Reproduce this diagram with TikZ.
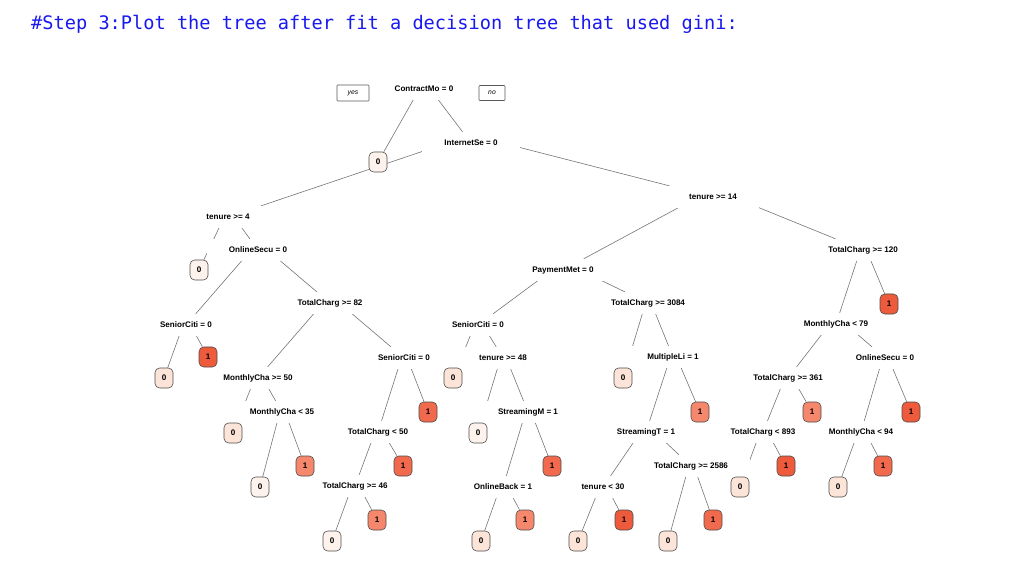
\documentclass[tikz,border=0pt]{standalone}
\usepackage{fontspec}
\setsansfont{Liberation Sans}
\setmonofont{DejaVu Sans Mono}
\usepackage{xcolor}
\usepackage{tikz}
\definecolor{titleblue}{RGB}{25,25,240}
\definecolor{zeroA}{HTML}{FEF3EC}
\definecolor{zeroB}{HTML}{FCE4D8}
\definecolor{oneA}{HTML}{F5886C}
\definecolor{oneB}{HTML}{F16A4E}
\definecolor{oneC}{HTML}{EE5A3C}
\pgfdeclarelayer{paper}
\pgfdeclarelayer{edges}
\pgfsetlayers{paper,edges,main}

\begin{document}
\begin{tikzpicture}[x=0.03cm,y=-0.03cm,
  splitlabel/.style={fill=white,inner xsep=18.7pt,inner ysep=6.1pt,
    text height=5pt,text depth=1.5pt,font=\sffamily\bfseries\fontsize{6.9}{8}\selectfont},
  leaf/.style={draw=black!70,line width=0.5pt,rounded corners=1.4mm,
    minimum width=0.54cm,minimum height=0.6cm,inner sep=0pt,
    font=\sffamily\bfseries\fontsize{6.9}{8}\selectfont},
  answer/.style={draw=black!65,line width=0.45pt,rounded corners=0.6pt,inner sep=0pt,
    font=\sffamily\itshape\fontsize{5.8}{6}\selectfont},
  branch/.style={draw=black!55,line width=0.5pt}]
  \useasboundingbox (0,0) rectangle (1032,567);
  \begin{pgfonlayer}{paper}
    \fill[white] (0,0) rectangle (1032,567);
  \end{pgfonlayer}
  % heading
  \node[anchor=base west,inner sep=0pt,text=titleblue,
    font=\ttfamily\fontsize{15.9}{18}\selectfont] (title) at (31,30)
    {\#Step 3:Plot the tree after fit a decision tree that used gini:};
  % yes / no tags at the root
  \node[answer,minimum width=0.96cm,minimum height=0.48cm] (yes) at (353,93) {yes};
  \node[answer,minimum width=0.78cm,minimum height=0.45cm] (no) at (492,93) {no};
  % split labels (white boxes hide the branches behind them)
  \foreach \n/\x/\y/\t in {root/424/89/ContractMo = 0, ise/471/143/InternetSe = 0,
    ten14/713/197/tenure >= 14, ten4/228/217/tenure >= 4, osec/258/250/OnlineSecu = 0,
    tc120/863/250/TotalCharg >= 120, pay/563/270/PaymentMet = 0,
    tc82/330/303/TotalCharg >= 82, tc3084/648/303/TotalCharg >= 3084,
    sc1/186/325/SeniorCiti = 0, sc2/478/325/SeniorCiti = 0, mc79/836/324/MonthlyCha < 79,
    sc3/404/358/SeniorCiti = 0, ten48/503/358/tenure >= 48, mli/673/357/MultipleLi = 1,
    osec2/885/358/OnlineSecu = 0, mc50/258/378/MonthlyCha >= 50,
    tc361/788/378/TotalCharg >= 361, mc35/282/412/MonthlyCha < 35,
    strm/528/412/StreamingM = 1, tc50/378/432/TotalCharg < 50,
    strt/646/432/StreamingT = 1, tc893/763/432/TotalCharg < 893,
    mc94/861/432/MonthlyCha < 94, tc2586/691/466/TotalCharg >= 2586,
    tc46/355/486/TotalCharg >= 46, oback/503/487/OnlineBack = 1,
    ten30/603/487/tenure < 30}
    \node[splitlabel] (\n) at (\x,\y) {\t};
  % leaves
  \foreach \n/\x/\y/\v/\c in {l1/378/162/0/zeroA, l2/199/270/0/zeroA,
    l3/164/378/0/zeroB, l4/208/357/1/oneC, l5/233/433/0/zeroB, l6/305/466/1/oneA,
    l7/260/487/0/zeroA, l8/428/412/1/oneB, l9/403/466/1/oneB, l10/377/520/1/oneA,
    l11/332/541/0/zeroA, l12/453/378/0/zeroB, l13/478/433/0/zeroA, l14/552/466/1/oneB,
    l15/525/520/1/oneA, l16/481/541/0/zeroB, l17/623/378/0/zeroB, l18/700/412/1/oneA,
    l19/624/520/1/oneC, l20/578/541/0/zeroB, l21/713/520/1/oneB, l22/668/541/0/zeroB,
    l23/889/304/1/oneC, l24/812/412/1/oneA, l25/786/466/1/oneC, l26/740/487/0/zeroB,
    l27/911/412/1/oneC, l28/883/466/1/oneB, l29/838/487/0/zeroB}
    \node[leaf,fill=\c] (\n) at (\x,\y) {\v};
  % branches
  \begin{pgfonlayer}{edges}
    \foreach \p/\c in {root/l1, root/ise, ise/ten4, ise/ten14, ten4/l2, ten4/osec,
      osec/sc1, osec/tc82, sc1/l3, sc1/l4, tc82/mc50, tc82/sc3, mc50/l5, mc50/mc35,
      mc35/l7, mc35/l6, sc3/tc50, sc3/l8, tc50/tc46, tc50/l9, tc46/l11, tc46/l10,
      ten14/pay, ten14/tc120, pay/sc2, pay/tc3084, sc2/l12, sc2/ten48, ten48/l13,
      ten48/strm, strm/oback, strm/l14, oback/l16, oback/l15, tc3084/l17, tc3084/mli,
      mli/strt, mli/l18, strt/ten30, strt/tc2586, ten30/l20, ten30/l19, tc2586/l22,
      tc2586/l21, tc120/mc79, tc120/l23, mc79/tc361, mc79/osec2, tc361/tc893,
      tc361/l24, tc893/l26, tc893/l25, osec2/mc94, osec2/l27, mc94/l29, mc94/l28}
      \draw[branch] ([yshift=2.4mm]\p.center) -- (\c);
  \end{pgfonlayer}
\end{tikzpicture}
\end{document}
